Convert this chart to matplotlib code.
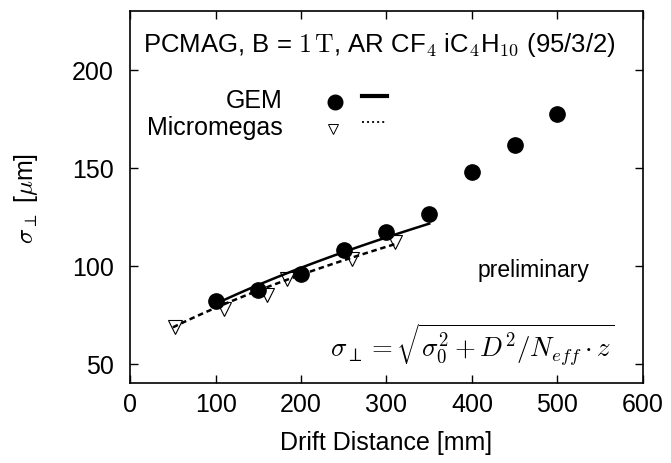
import numpy as np
import matplotlib
matplotlib.use("Agg")
import matplotlib.pyplot as plt
from matplotlib.lines import Line2D

plt.rcParams['font.family'] = ['Liberation Sans', 'DejaVu Sans']
plt.rcParams['mathtext.fontset'] = 'cm'

# GEM data
gem_x = [100, 150, 200, 250, 300, 350, 400, 450, 500]
gem_y = [81.8, 87.8, 95.6, 107.8, 117.2, 126.5, 147.8, 161.7, 177.4]
# Micromegas data
mm_x = [52, 110, 160, 183, 260, 310]
mm_y = [68.7, 78.0, 84.8, 93.4, 103.6, 112.0]

# fit parameters sigma0^2 and D^2/Neff, fit range
gem_s0sq, gem_k = 3167.0, 33.1
gem_range = [100, 350]
mm_s0sq, mm_k = 3225.0, 29.34
mm_range = [50, 310]

fig = plt.figure(figsize=(6.71, 4.64), dpi=100)
ax = fig.add_axes([0.194, 0.172, 0.764, 0.802])

z = np.linspace(gem_range[0], gem_range[1], 100)
ax.plot(z, np.sqrt(gem_s0sq + gem_k * z), color='black', lw=1.8, zorder=4)
z = np.linspace(mm_range[0], mm_range[1], 100)

ax.plot(mm_x, mm_y, linestyle='none', marker='v', ms=10, mfc='white', mec='black', mew=0.8, zorder=2)
ax.plot(z, np.sqrt(mm_s0sq + mm_k * z), color='black', lw=1.8, ls=(0, (2.2, 1.5)), zorder=4)
ax.plot(gem_x, gem_y, linestyle='none', marker='o', ms=11, color='black', zorder=3)

ax.set_xlim(0, 600)
ax.set_ylim(40, 230)
ax.set_xticks([0, 100, 200, 300, 400, 500, 600])
ax.set_yticks([50, 100, 150, 200])
ax.tick_params(direction='in', top=True, right=True, length=6, width=1, labelsize=18)
ax.tick_params(axis='x', pad=6)
ax.tick_params(axis='y', pad=12)
for s in ax.spines.values():
    s.set_linewidth(1.2)

ax.set_xlabel('Drift Distance [mm]', fontsize=18)
ax.set_ylabel(r'$\sigma_\perp$ [$\mu$m]', fontsize=18)
ax.xaxis.set_label_coords(0.5, -0.125)
ax.yaxis.set_label_coords(-0.175, 0.5)

ax.text(0.025, 0.911, r'PCMAG, B = $1\,\mathrm{T}$, AR CF$_4$ iC$_4$H$_{10}$ (95/3/2)',
        transform=ax.transAxes, fontsize=18.5, va='center', ha='left')
ax.text(0.787, 0.306, 'preliminary', transform=ax.transAxes, fontsize=16.5, ha='center', va='center')
ax.text(0.945, 0.105, r'$\sigma_\perp = \sqrt{\sigma_0^2 + D^2/N_{eff}\cdot z}$',
        transform=ax.transAxes, fontsize=19.3, ha='right', va='center')

# legend drawn by hand
ax.text(0.298, 0.761, 'GEM', transform=ax.transAxes, fontsize=18, ha='right', va='center')
ax.text(0.298, 0.6895, 'Micromegas', transform=ax.transAxes, fontsize=18, ha='right', va='center')
ax.add_line(Line2D([0.40], [0.756], transform=ax.transAxes, marker='o', ms=10.5, color='black', ls='none'))
ax.add_line(Line2D([0.395], [0.683], transform=ax.transAxes, marker='v', ms=7.5, mfc='white', mec='black', mew=0.7, ls='none'))
ax.add_line(Line2D([0.452, 0.501], [0.772, 0.772], transform=ax.transAxes, color='black', lw=3))
ax.add_line(Line2D([0.452, 0.501], [0.702, 0.702], transform=ax.transAxes, color='black', lw=1.3, ls=(0, (1.1, 1.7))))

fig.savefig('out.png', dpi=100)
